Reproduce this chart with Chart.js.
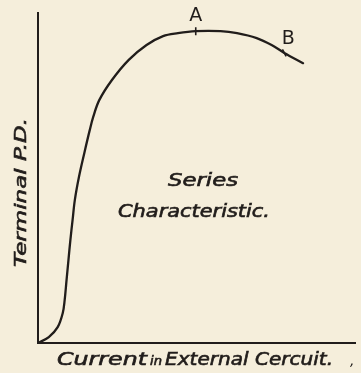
<!DOCTYPE html>
<html>
<head>
<meta charset="utf-8">
<script src="https://cdn.jsdelivr.net/npm/chart.js@4/dist/chart.umd.min.js"></script>
<style>
  html, body { margin: 0; padding: 0; background: #f5eedb; }
  #wrap { width: 361px; height: 373px; position: relative; }
</style>
</head>
<body>
<div id="wrap"><canvas id="chart"></canvas></div>
<script>
// Series dynamo characteristic: terminal P.D. against external current.
const CURRENT = [0, 3.4, 6.2, 7.8, 8.4, 9.0, 9.6, 10.2, 10.9, 11.6, 12.9, 14.6, 16.3, 17.4, 19.3, 23.3, 28.6, 34.2, 39.4, 44.1, 49.7, 57.5, 62.7, 68.9, 73.6, 77.6, 83.5];
const TERMINAL_PD = [0, 1.8, 4.8, 9.1, 13.0, 19.1, 25.2, 31.2, 37.3, 43.3, 50.3, 57.6, 64.5, 68.5, 73.6, 79.7, 85.8, 90.3, 93.0, 93.9, 94.5, 94.5, 93.9, 92.4, 90.3, 87.9, 84.8];

// marked points on the curve
const MARK_LABELS = ["A", "B"];
const MARK_CURRENT = [49.7, 77.6];
const MARK_PD = [94.5, 87.9];
const MARK_ROTATION = [90, 62];

const INK = "#211d1b";
const FONT = '"DejaVu Sans", sans-serif';

const curve = CURRENT.map((x, i) => ({ x, y: TERMINAL_PD[i] }));
const marks = MARK_CURRENT.map((x, i) => ({ x, y: MARK_PD[i] }));

// draws text scaled sideways so it spans `width` px from `left`,
// with a thin outline to give the pen-lettered weight
function stretchText(ctx, text, left, base, width, font) {
  ctx.font = font;
  const w = ctx.measureText(text).width;
  ctx.save();
  ctx.translate(left, base);
  ctx.scale(width / w, 1);
  ctx.textAlign = "left";
  ctx.textBaseline = "alphabetic";
  ctx.lineWidth = 0.6;
  ctx.strokeStyle = INK;
  ctx.fillText(text, 0, 0);
  ctx.strokeText(text, 0, 0);
  ctx.restore();
}

// hand-lettered captions and the A/B tags
const lettering = {
  id: "lettering",
  afterDatasetsDraw(chart) {
    const { ctx, scales } = chart;
    ctx.save();
    ctx.fillStyle = INK;
    ctx.textAlign = "center";
    ctx.textBaseline = "middle";

    ctx.font = "19px " + FONT;
    MARK_LABELS.forEach((lab, i) => {
      const px = scales.x.getPixelForValue(MARK_CURRENT[i]);
      const py = scales.y.getPixelForValue(MARK_PD[i]);
      const dx = i === 0 ? 0 : 4;
      const dy = i === 0 ? -15 : -14;
      ctx.fillText(lab, px + dx, py + dy);
    });

    const it = "italic 17px " + FONT;
    stretchText(ctx, "Series", 168, 186, 70, it);
    stretchText(ctx, "Characteristic.", 118, 217, 152, it);

    // vertical axis caption, reads bottom to top
    ctx.save();
    ctx.translate(26, 267);
    ctx.rotate(-Math.PI / 2);
    stretchText(ctx, "Terminal P.D.", 0, 0, 149, "italic 16px " + FONT);
    ctx.restore();

    // horizontal axis caption, with a small "in"
    stretchText(ctx, "Current", 57, 365, 90, it);
    stretchText(ctx, "in", 150, 365, 12, "italic 12px " + FONT);
    stretchText(ctx, "External Cercuit.", 165, 365, 168, it);
    ctx.font = "italic 14px " + FONT;
    ctx.textAlign = "left";
    ctx.textBaseline = "alphabetic";
    ctx.fillText(",", 350, 365);
    ctx.restore();
  }
};

new Chart(document.getElementById("chart"), {
  type: "line",
  data: {
    datasets: [
      {
        label: "Terminal P.D.",
        data: curve,
        borderColor: INK,
        borderWidth: 2.3,
        pointRadius: 0,
        fill: false,
        tension: 0.35,
        borderCapStyle: "round",
        borderJoinStyle: "round",
      },
      {
        label: "marks",
        data: marks,
        showLine: false,
        pointStyle: "line",
        pointRadius: 4,
        pointRotation: MARK_ROTATION,
        borderColor: INK,
        pointBorderWidth: 1.6,
      },
    ],
  },
  options: {
    responsive: true,
    maintainAspectRatio: false,
    animation: false,
    layout: { padding: { left: 38, top: 13, right: 1, bottom: 30 } },
    plugins: { legend: { display: false }, tooltip: { enabled: false } },
    scales: {
      x: {
        type: "linear",
        min: 0,
        max: 100,
        ticks: { display: false },
        grid: { display: false, drawTicks: false },
        border: { display: true, color: INK, width: 2 },
        afterFit: (s) => { s.height = 0; },
      },
      y: {
        type: "linear",
        min: 0,
        max: 100,
        ticks: { display: false },
        grid: { display: false, drawTicks: false },
        border: { display: true, color: INK, width: 2 },
        afterFit: (s) => { s.width = 0; },
      },
    },
  },
  plugins: [lettering],
});
</script>
</body>
</html>
